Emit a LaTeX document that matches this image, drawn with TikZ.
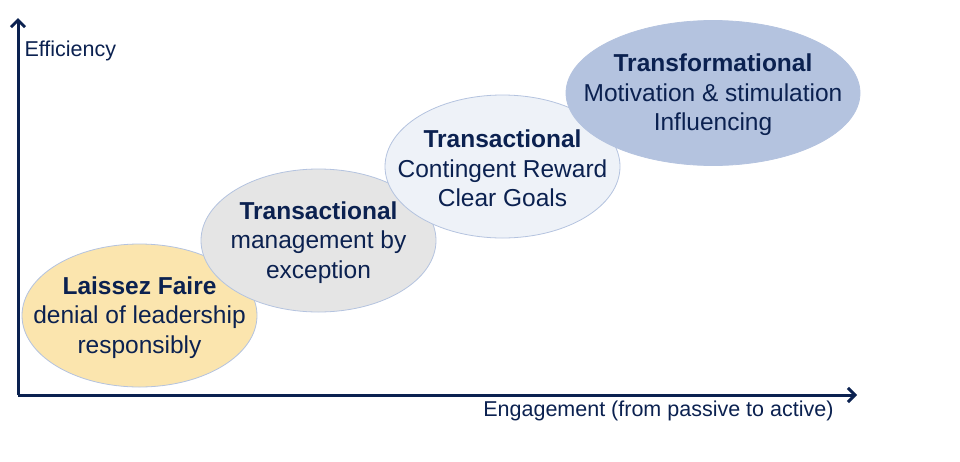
\documentclass[tikz,border=0pt]{standalone}
\usepackage{fontspec}
\setmainfont{Liberation Sans}
\usepackage{xcolor}
\usetikzlibrary{arrows.meta, positioning, shapes.geometric}

\definecolor{navy}{HTML}{0B2150}
\definecolor{rim}{HTML}{B4C3DF}
\definecolor{sand}{HTML}{FBE5AE}
\definecolor{stone}{HTML}{E5E5E5}
\definecolor{mist}{HTML}{EEF2F8}
\definecolor{sky}{HTML}{B4C3DF}

\begin{document}
\begin{tikzpicture}[x=1pt,y=-1pt,>={Straight Barb[length=7pt,width=14pt,line width=3pt]},
        every node/.style={text=navy},
        blob/.style={ellipse,draw=rim,line width=0.8pt,inner sep=0pt},
        label/.style={align=center,inner sep=0pt,font=\fontsize{24.5}{29.5}\selectfont},
        axis/.style={draw=navy,line width=3pt}]

      \useasboundingbox (0,0) rectangle (960,461);

      \node[blob,fill=sand,minimum width=235pt,minimum height=143pt]  (laissez) at (139.5,315.5) {};
      \node[blob,fill=stone,minimum width=235pt,minimum height=143pt] (except)  at (318.5,240.5) {};
      \node[blob,fill=mist,minimum width=235pt,minimum height=143pt]  (reward)  at (502.5,166.5) {};
      \node[blob,fill=sky,minimum width=294pt,minimum height=145pt]   (trans)   at (713,93)     {};

      \node[label,yshift=-2pt] (laissez text) at (laissez) {\textbf{Laissez Faire}\\denial of leadership\\responsibly};
      \node[label,yshift=-2pt] (except text)  at (except)  {\textbf{Transactional}\\management by\\exception};
      \node[label,yshift=-2pt] (reward text)  at (reward)  {\textbf{Transactional}\\Contingent Reward\\Clear Goals};
      \node[label,yshift=-2pt] (trans text)   at (trans)   {\textbf{Transformational}\\Motivation \& stimulation\\Influencing};

      \coordinate (origin) at (18,395);
      \coordinate (ytip)   at (18,18);
      \coordinate (xtip)   at (857,395);
      \draw[axis,->] (origin) -- (ytip);
      \draw[axis,->] (origin) -- (xtip);

      \node[font=\fontsize{21.5}{25}\selectfont,anchor=west] (eff) at (21,51) {Efficiency};
      \node[font=\fontsize{21.5}{25}\selectfont,anchor=east] (eng) at (837,411)
            {Engagement (from passive to active)};
    \end{tikzpicture}
\end{document}
